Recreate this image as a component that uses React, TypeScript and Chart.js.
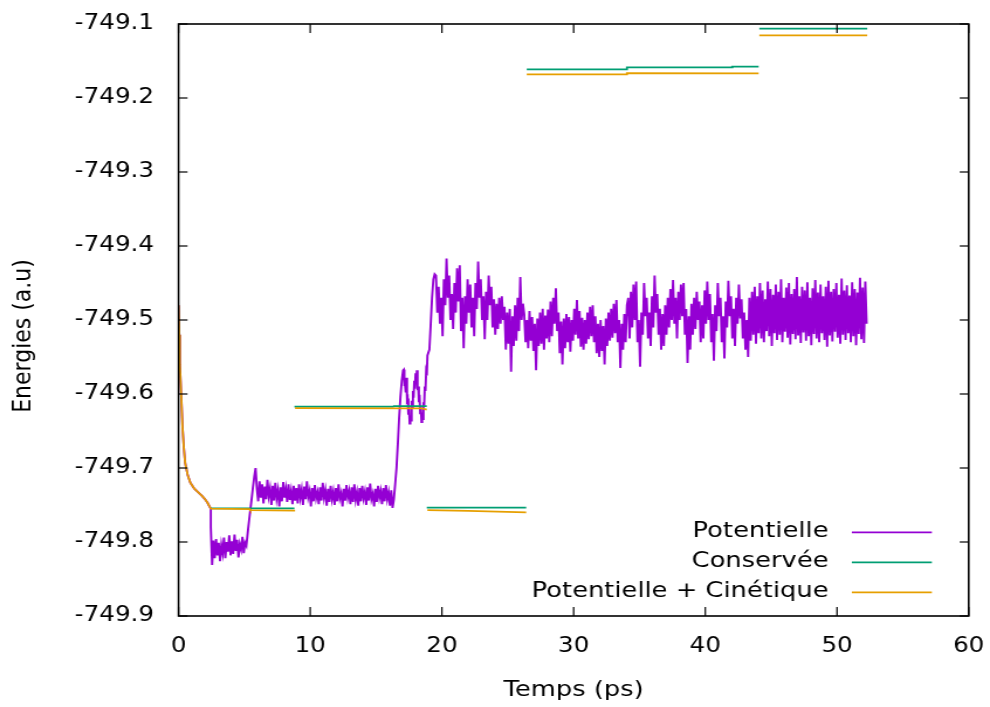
import React, { useEffect, useRef } from 'react';
import { Chart, registerables } from 'chart.js';

Chart.register(...registerables);

// ---------- data ----------
const xTicks = [0, 10, 20, 30, 40, 50, 60];
const yTicks = [-749.9, -749.8, -749.7, -749.6, -749.5, -749.4, -749.3, -749.2, -749.1];

const xTitle = 'Temps (ps)';
const yTitle = 'Energies (a.u)';
const legendLabels = ['Potentielle', 'Conservée', 'Potentielle + Cinétique'];

// initial relaxation (time in ps, energy in a.u)
const startTime = [0, 0.05, 0.1, 0.2, 0.3, 0.4, 0.5, 0.7, 0.9, 1.2, 1.5, 1.8, 2.0, 2.2, 2.35, 2.45];
const startEnergy = [-749.48, -749.52, -749.56, -749.60, -749.645, -749.672, -749.693, -749.710, -749.720, -749.728, -749.733, -749.738, -749.742, -749.747, -749.752, -749.755];

// Potentielle, by segment
const potLow = [-749.780, -749.831, -749.798, -749.822, -749.796, -749.818, -749.801, -749.826, -749.804, -749.815, -749.794, -749.822, -749.800, -749.813, -749.791, -749.818, -749.799, -749.816, -749.790, -749.812, -749.797, -749.821, -749.803, -749.810, -749.793, -749.815, -749.801];
const potRise1 = [-749.805, -749.788, -749.772, -749.757, -749.742, -749.726, -749.712, -749.700, -749.728];
const potMid = [
  -749.745, -749.718, -749.740, -749.722, -749.748, -749.725, -749.742, -749.716, -749.738, -749.728,
  -749.750, -749.724, -749.744, -749.720, -749.741, -749.730, -749.752, -749.726, -749.745, -749.719,
  -749.740, -749.728, -749.746, -749.722, -749.743, -749.731, -749.749, -749.724, -749.744, -749.727,
  -749.748, -749.722, -749.740, -749.729, -749.750, -749.725, -749.742, -749.718, -749.739, -749.731,
  -749.752, -749.727, -749.745, -749.723, -749.741, -749.733, -749.749, -749.726, -749.744, -749.720,
  -749.740, -749.730, -749.751, -749.728, -749.746, -749.724, -749.742, -749.732, -749.750, -749.727,
  -749.745, -749.722, -749.741, -749.734, -749.752, -749.728, -749.744, -749.723, -749.740, -749.731,
  -749.749, -749.726, -749.746, -749.722, -749.743, -749.733, -749.751, -749.727, -749.745, -749.724,
  -749.741, -749.732, -749.750, -749.726, -749.744, -749.721, -749.742, -749.735, -749.752, -749.728,
  -749.746, -749.724, -749.740, -749.731, -749.749, -749.727, -749.745, -749.723, -749.742, -749.733,
  -749.751, -749.730, -749.754,
];
const potRise2 = [-749.742, -749.722, -749.700, -749.668, -749.632, -749.604, -749.582, -749.568];
const potOsc1 = [
  -749.567, -749.588, -749.588, -749.598, -749.578, -749.608, -749.606, -749.628, -749.618, -749.640,
  -749.629, -749.636, -749.609, -749.618, -749.596, -749.605, -749.582, -749.593, -749.572, -749.586,
  -749.568, -749.595, -749.590, -749.611, -749.601, -749.626, -749.618, -749.638, -749.625, -749.634,
  -749.611, -749.616, -749.590, -749.596, -749.571, -749.575, -749.548,
];
const potRise3 = [-749.540, -749.505, -749.470, -749.445, -749.438];
const potBig = [
  -749.440, -749.490, -749.455, -749.505, -749.470, -749.522, -749.445, -749.480, -749.417, -749.470,
  -749.440, -749.500, -749.465, -749.512, -749.450, -749.490, -749.430, -749.475, -749.426, -749.515,
  -749.470, -749.538, -749.468, -749.505, -749.445, -749.490, -749.452, -749.510, -749.470, -749.522,
  -749.450, -749.485, -749.421, -749.470, -749.445, -749.500, -749.468, -749.526, -749.462, -749.500,
  -749.440, -749.480, -749.455, -749.510, -749.472, -749.520, -749.478, -749.512, -749.470, -749.505,
  -749.468, -749.500, -749.482, -749.540, -749.490, -749.532, -749.485, -749.570, -749.495, -749.535,
  -749.480, -749.528, -749.470, -749.515, -749.442, -749.500, -749.478,
];
const potFlat = [
  -749.492, -749.530, -749.500, -749.538, -749.488, -749.528, -749.496, -749.542, -749.505, -749.568,
  -749.498, -749.535, -749.490, -749.532, -749.485, -749.540, -749.494, -749.525, -749.486, -749.530,
  -749.475, -749.522, -749.470, -749.505, -749.457, -749.515, -749.490, -749.545, -749.502, -749.560,
  -749.498, -749.538, -749.492, -749.530, -749.496, -749.543, -749.500, -749.528, -749.485, -749.520,
  -749.473, -749.525, -749.488, -749.536, -749.497, -749.540, -749.500, -749.532, -749.490, -749.526,
  -749.482, -749.522, -749.480, -749.530, -749.495, -749.545, -749.505, -749.550, -749.500, -749.542,
  -749.508, -749.560, -749.498, -749.535, -749.490, -749.528, -749.485, -749.524, -749.478, -749.518,
  -749.473, -749.530, -749.500, -749.565, -749.505, -749.540, -749.492, -749.530, -749.480,
];
const potOsc2 = [
  -749.470, -749.525, -749.462, -749.510, -749.452, -749.500, -749.448, -749.530, -749.500, -749.563,
  -749.490, -749.520, -749.450, -749.495, -749.470, -749.525, -749.490, -749.535, -749.468, -749.510,
  -749.440, -749.490, -749.465, -749.520, -749.485, -749.540, -749.492, -749.535, -749.480, -749.520,
  -749.470, -749.510, -749.458, -749.500, -749.446, -749.505, -749.470, -749.525, -749.462, -749.500,
  -749.452, -749.495, -749.450, -749.520, -749.485, -749.558, -749.495, -749.540, -749.478, -749.520,
  -749.470, -749.512, -749.462, -749.500, -749.475, -749.530, -749.480, -749.525, -749.460, -749.505,
  -749.448, -749.500, -749.465, -749.530, -749.492, -749.555, -749.480, -749.515, -749.450, -749.495,
  -749.470, -749.530, -749.495, -749.552, -749.475, -749.510, -749.447, -749.495, -749.468, -749.525,
  -749.485, -749.535, -749.470, -749.505, -749.452, -749.498, -749.472, -749.525, -749.490, -749.540,
  -749.500, -749.550,
];
const potDense = [
  -749.470, -749.528, -749.462, -749.520, -749.455, -749.532, -749.468, -749.518, -749.450, -749.525,
  -749.460, -749.530, -749.472, -749.515, -749.448, -749.522, -749.458, -749.535, -749.466, -749.518,
  -749.452, -749.527, -749.462, -749.520, -749.445, -749.530, -749.470, -749.516, -749.456, -749.524,
  -749.450, -749.533, -749.465, -749.519, -749.458, -749.526, -749.442, -749.521, -749.468, -749.531,
  -749.455, -749.517, -749.460, -749.528, -749.449, -749.522, -749.470, -749.534, -749.457, -749.519,
  -749.446, -749.525, -749.463, -749.530, -749.452, -749.518, -749.468, -749.527, -749.455, -749.536,
  -749.447, -749.521, -749.462, -749.529, -749.458, -749.516, -749.450, -749.524, -749.466, -749.532,
  -749.444, -749.520, -749.460, -749.527, -749.453, -749.518, -749.467, -749.530, -749.449, -749.522,
  -749.458, -749.534, -749.463, -749.519, -749.443, -749.526, -749.456, -749.531, -749.448, -749.505,
];

// time span (ps) of each sampled segment of Potentielle
const potSegments = [
  { t0: 2.45, t1: 5.05, values: potLow },
  { t0: 5.15, t1: 5.95, values: potRise1 },
  { t0: 6.05, t1: 16.25, values: potMid },
  { t0: 16.35, t1: 17.05, values: potRise2 },
  { t0: 17.1, t1: 18.9, values: potOsc1 },
  { t0: 19.05, t1: 19.45, values: potRise3 },
  { t0: 19.55, t1: 26.15, values: potBig },
  { t0: 26.25, t1: 34.05, values: potFlat },
  { t0: 34.15, t1: 43.25, values: potOsc2 },
  { t0: 43.35, t1: 52.25, values: potDense },
];

// Conservée (null = break between runs)
const conservTime = [2.45, 8.8, 8.8, 8.8, 16.3, 16.35, 18.85, 18.85, 18.85, 26.4, 26.42, 26.44, 34.0, 34.05, 42.0, 42.05, 44.05, 44.07, 44.1, 52.3];
const conservEnergy = [-749.7545, -749.7545, null, -749.617, -749.617, -749.6163, -749.6163, null, -749.7536, -749.7536, null, -749.1612, -749.1612, -749.1585, -749.1585, -749.1577, -749.1577, null, -749.1063, -749.1063];

// Potentielle + Cinétique
const pcTime = [...startTime, 5.4, 5.45, 8.85, 8.85, 8.85, 18.5, 18.85, 18.87, 18.9, 22.0, 26.4, 26.42, 26.44, 34.0, 34.05, 44.05, 44.07, 44.1, 52.3];
const pcEnergy = [...startEnergy, -749.7555, -749.757, -749.7575, null, -749.619, -749.6195, -749.621, null, -749.757, -749.758, -749.760, null, -749.168, -749.168, -749.1665, -749.1668, null, -749.1153, -749.1155];

// ---------- layout ----------
const SX = 1.17; // reference is stretched horizontally
const CSS_W = 990;
const CSS_H = 707;
const W = Math.round(CSS_W / SX);
const H = CSS_H;
const AREA_LEFT = 178.5 / SX;
const AREA_RIGHT = 968.5 / SX;
const AREA_TOP = 24;
const AREA_BOTTOM = 616;
const FONT = "'DejaVu Sans', sans-serif";

const COLORS = ['#9400d3', '#009e73', '#e69f00'];

function buildPotentielle() {
  const pts: { x: number; y: number | null }[] = startTime.map((t, i) => ({ x: t, y: startEnergy[i] }));
  potSegments.forEach((seg) => {
    const n = seg.values.length;
    seg.values.forEach((v, i) => {
      pts.push({ x: seg.t0 + (n > 1 ? (i * (seg.t1 - seg.t0)) / (n - 1) : 0), y: v });
    });
  });
  return pts;
}

function zipPoints(ts: number[], es: (number | null)[]) {
  return ts.map((t, i) => ({ x: t, y: es[i] }));
}

const framePlugin = {
  id: 'gnuFrame',
  afterDatasetsDraw(chart: any) {
    const { ctx, chartArea, scales } = chart;
    const { left, right, top, bottom } = chartArea;
    const line = (x0: number, y0: number, x1: number, y1: number) => {
      ctx.beginPath();
      ctx.moveTo(x0, y0);
      ctx.lineTo(x1, y1);
      ctx.stroke();
    };
    ctx.save();
    ctx.strokeStyle = '#000';
    ctx.lineWidth = 1.2;
    const tickH = 9;
    const tickW = 9 / SX;
    xTicks.forEach((v) => {
      const px = scales.x.getPixelForValue(v);
      line(px, bottom, px, bottom - tickH);
      line(px, top, px, top + tickH);
    });
    yTicks.forEach((v) => {
      const py = scales.y.getPixelForValue(v);
      line(left, py, left + tickW, py);
      line(right, py, right - tickW, py);
    });
    ctx.lineWidth = 1.6;
    ctx.strokeRect(left, top, right - left, bottom - top);
    ctx.restore();
  },
};

// y-axis title (gnuplot places it slightly below the plot centre here)
const YTITLE_X = 20.2;
const YTITLE_Y = 336;

const yTitlePlugin = {
  id: 'gnuYTitle',
  afterDraw(chart: any) {
    const ctx = chart.ctx;
    ctx.save();
    ctx.translate(YTITLE_X, YTITLE_Y);
    ctx.rotate(-Math.PI / 2);
    ctx.font = `22px ${FONT}`;
    ctx.fillStyle = '#000';
    ctx.textAlign = 'center';
    ctx.textBaseline = 'middle';
    ctx.fillText(yTitle, 0, 0);
    ctx.restore();
  },
};

const LEGEND_TEXT_X = 828.3 / SX;
const LEGEND_LINE_X0 = 851.7 / SX;
const LEGEND_LINE_X1 = 931.7 / SX;
const LEGEND_Y0 = 532.3;
const LEGEND_DY = 30;

const legendPlugin = {
  id: 'gnuLegend',
  afterDraw(chart: any) {
    const ctx = chart.ctx;
    ctx.save();
    ctx.font = `22px ${FONT}`;
    ctx.textAlign = 'right';
    ctx.textBaseline = 'alphabetic';
    chart.data.datasets.forEach((ds: any, i: number) => {
      const yl = LEGEND_Y0 + i * LEGEND_DY;
      ctx.fillStyle = '#000';
      ctx.fillText(ds.label, LEGEND_TEXT_X, yl + 5);
      ctx.strokeStyle = ds.borderColor;
      ctx.lineWidth = 1.8;
      ctx.beginPath();
      ctx.moveTo(LEGEND_LINE_X0, yl);
      ctx.lineTo(LEGEND_LINE_X1, yl);
      ctx.stroke();
    });
    ctx.restore();
  },
};

export default function App() {
  const ref = useRef<HTMLCanvasElement | null>(null);

  useEffect(() => {
    if (!ref.current) return;
    Chart.defaults.font.family = FONT;
    const chart = new Chart(ref.current, {
      type: 'line',
      data: {
        datasets: [
          {
            label: legendLabels[0],
            data: buildPotentielle(),
            borderColor: COLORS[0],
            borderWidth: 1.9,
            pointRadius: 0,
            order: 3,
          },
          {
            label: legendLabels[1],
            data: zipPoints(conservTime, conservEnergy),
            borderColor: COLORS[1],
            borderWidth: 1.8,
            pointRadius: 0,
            order: 2,
          },
          {
            label: legendLabels[2],
            data: zipPoints(pcTime, pcEnergy),
            borderColor: COLORS[2],
            borderWidth: 1.8,
            pointRadius: 0,
            order: 1,
          },
        ],
      } as any,
      options: {
        responsive: false,
        animation: false,
        devicePixelRatio: 1,
        events: [],
        spanGaps: false,
        layout: { padding: { left: 0, right: W - AREA_RIGHT, top: AREA_TOP, bottom: 0 } },
        plugins: { legend: { display: false }, tooltip: { enabled: false } },
        scales: {
          x: {
            type: 'linear',
            min: 0,
            max: 60,
            afterBuildTicks: (s: any) => {
              s.ticks = xTicks.map((v) => ({ value: v }));
            },
            afterFit: (s: any) => {
              s.height = H - AREA_BOTTOM;
              s.paddingLeft = 0;
              s.paddingRight = 0;
              s.paddingTop = 0;
              s.paddingBottom = 0;
            },
            grid: { display: false },
            border: { display: false },
            ticks: { color: '#000', font: { size: 21 }, padding: 10, maxRotation: 0, autoSkip: false },
            title: { display: true, text: xTitle, color: '#000', font: { size: 22 }, padding: { top: 0, bottom: 4 } },
          },
          y: {
            type: 'linear',
            min: -749.9,
            max: -749.1,
            afterBuildTicks: (s: any) => {
              s.ticks = yTicks.map((v) => ({ value: v }));
            },
            afterFit: (s: any) => {
              s.width = AREA_LEFT;
              s.paddingLeft = 0;
              s.paddingRight = 0;
              s.paddingTop = 0;
              s.paddingBottom = 0;
            },
            grid: { display: false },
            border: { display: false },
            ticks: {
              color: '#000',
              font: { size: 21 },
              padding: 13,
              autoSkip: false,
              callback: (v: any) => Number(v).toFixed(1),
            },
            title: { display: false },
          },
        },
      } as any,
      plugins: [framePlugin, yTitlePlugin, legendPlugin],
    });
    return () => chart.destroy();
  }, []);

  return (
    <div style={{ position: 'absolute', left: 0, top: 0, width: CSS_W, height: CSS_H, background: '#fff' }}>
      <canvas ref={ref} width={W} height={H} style={{ width: `${CSS_W}px`, height: `${CSS_H}px`, display: 'block' }} />
    </div>
  );
}
